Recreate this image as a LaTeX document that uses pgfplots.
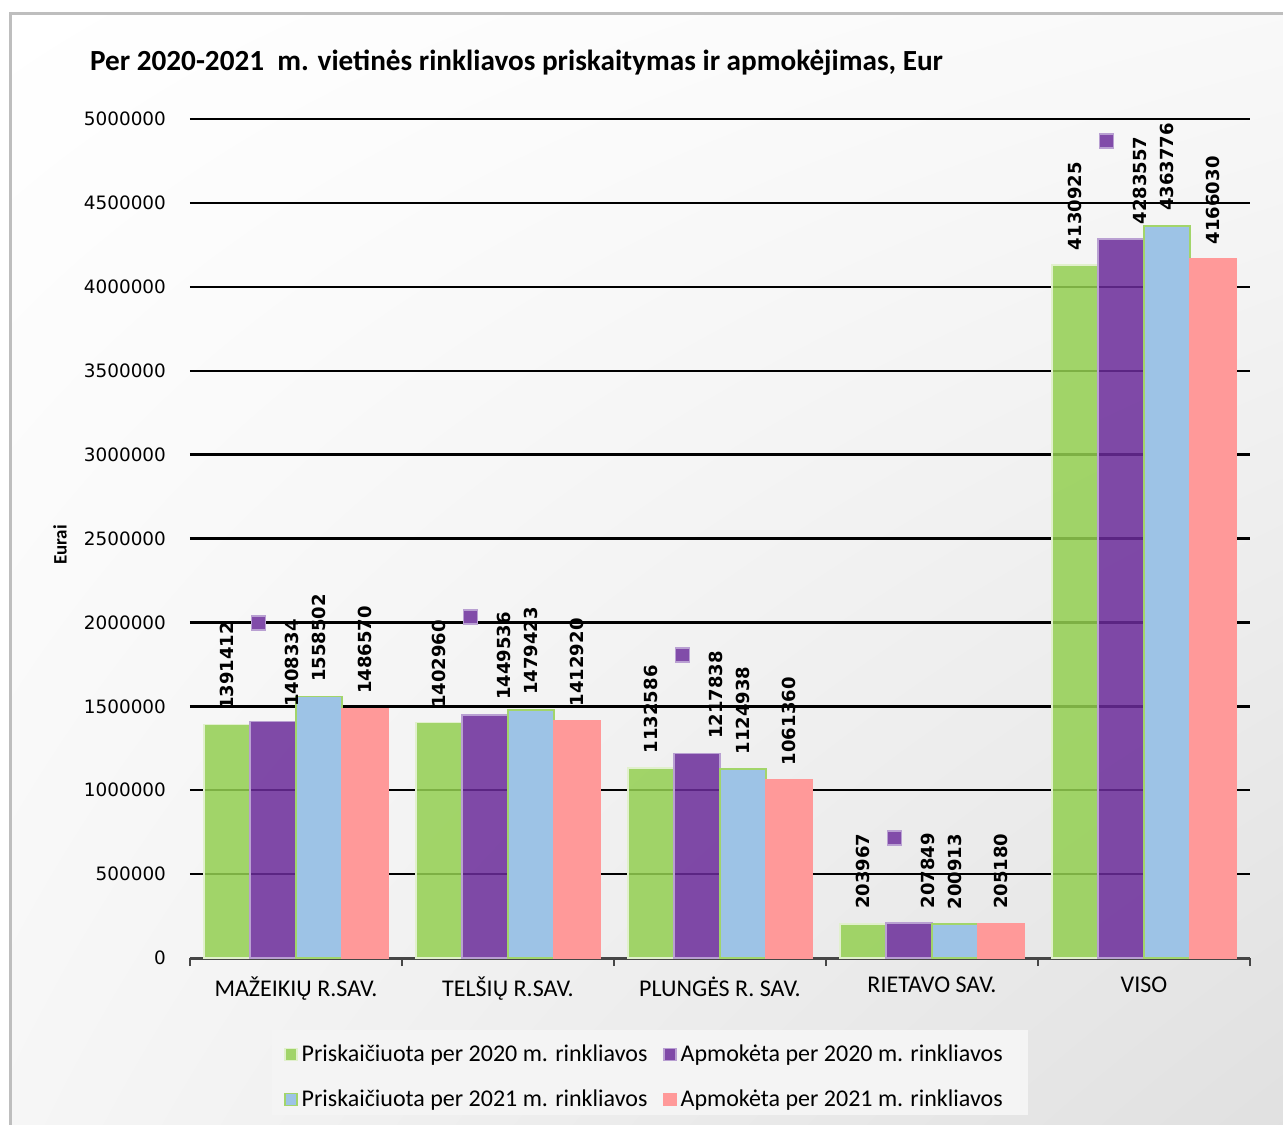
\documentclass[border=0pt]{standalone}
\usepackage{pgfplots}
\pgfplotsset{compat=1.18}
\usepackage{pgfplotstable}
\usetikzlibrary{shadings}
\usepackage{fontspec}
\setmainfont{Carlito}
\newfontfamily\dejavu{DejaVu Sans}
\definecolor{cgreen}{RGB}{147,207,81}
\definecolor{cgreenedge}{RGB}{225,240,205}
\definecolor{cpurple}{RGB}{107,44,154}
\definecolor{cpurpleedge}{RGB}{185,160,210}
\definecolor{cgreenline}{RGB}{162,213,106}
\definecolor{cblue}{RGB}{157,195,230}
\definecolor{cpink}{RGB}{255,153,153}
\definecolor{cborder}{RGB}{190,190,190}
\definecolor{caxis}{RGB}{70,70,70}

\pgfplotstableread{
x y
0 1391412
1 1402960
2 1132586
3 203967
4 4130925
}\tPA
\pgfplotstableread{
x y
0 1408334
1 1449536
2 1217838
3 207849
4 4283557
}\tAA
\pgfplotstableread{
x y
0 1558502
1 1479423
2 1124938
3 200913
4 4363776
}\tPB
\pgfplotstableread{
x y
0 1486570
1 1412920
2 1061360
3 205180
4 4166030
}\tAB
\pgfplotstableread{
x y
-0.177 1996000
0.823 2032000
1.823 1806000
2.823 715000
3.823 4869000
}\tMarks

\begin{document}
\begin{tikzpicture}
\useasboundingbox (-95pt,-83pt) rectangle (546.5pt,479pt);
\fill[white] (-95pt,-83pt) rectangle (546.5pt,479pt);
\shade[upper left=white, upper right=gray!5, lower left=gray!7, lower right=gray!24] (-89.75pt,-83pt) rectangle (546.5pt,472.25pt);
\draw[cborder, line width=1.5pt] (-89.75pt,-90pt) -- (-89.75pt,472.25pt) -- (560pt,472.25pt);
\fill[gray!9] (41pt,-36pt) rectangle (419pt,-78.5pt);
\begin{axis}[
  at={(0,0)}, anchor=south west,
  scale only axis, width=530pt, height=419.5pt,
  xmin=-0.5, xmax=4.5, ymin=0, ymax=5000000,
  axis lines*=left,
  y axis line style={draw=none},
  x axis line style={draw=caxis, line width=1.5pt},
  ytick={0,500000,1000000,1500000,2000000,2500000,3000000,3500000,4000000,4500000,5000000},
  ymajorgrids,
  major grid style={black, line width=1.2pt},
  major tick length=0pt,
  tick align=outside,
  minor tick length=4pt,
  minor x tick style={draw=caxis, line width=1.2pt},
  scaled y ticks=false,
  yticklabel={\dejavu\fontsize{9.2}{10}\selectfont\pgfmathprintnumber[fixed,precision=0,1000 sep={},assume math mode=true]{\tick}},
  yticklabel style={anchor=east, xshift=-8.5pt},
  xtick={0,1,2,3,4},
  minor xtick={-0.5,0.5,1.5,2.5,3.5,4.5},
  xticklabels={MAŽEIKIŲ R.SAV., TELŠIŲ R.SAV., PLUNGĖS R. SAV., RIETAVO SAV., VISO},
  xticklabel style={font=\fontsize{12}{14}\selectfont, yshift=-6pt},
  ylabel={\bfseries Eurai},
  ylabel style={at={(axis description cs:-0.1226,0.4923)}, anchor=center, rotate=0, font=\fontsize{9.5}{11}\selectfont},
  title={Per 2020-2021 \ m. vietinės rinkliavos priskaitymas ir apmokėjimas, Eur},
  title style={at={(axis description cs:-0.1009,1.0524)}, anchor=west, font=\bfseries\fontsize{14.6}{17}\selectfont},
  legend columns=2,
  legend cell align=left,
  legend style={at={(axis description cs:0.0887,-0.0977)}, anchor=north west, fill=none, draw=none,
    font=\fontsize{12}{14}\selectfont, inner xsep=0pt, inner ysep=0pt, row sep=9pt,
    /tikz/every even column/.append style={column sep=6pt}},
  legend image code/.code={\draw[#1, line width=0.6pt] (0pt,-3pt) rectangle (6pt,3pt);},
  point meta=explicit symbolic,
  nodes near coords,
  every node near coord/.append style={font=\dejavu\bfseries\fontsize{9}{10}\selectfont, rotate=90, anchor=west, inner sep=0pt, xshift=7pt},
  clip=false,
]
\addplot[ybar, bar width=23pt, bar shift=-34.5pt, fill=cgreen, fill opacity=0.85, draw=cgreenedge, line width=0.8pt, text opacity=1,
  every node near coord/.append style={yshift=34.5pt}] table[x=x,y=y,meta=y] {\tPA};
\addlegendentry{Priskaičiuota per 2020 m. rinkliavos}
\addplot[ybar, bar width=23pt, bar shift=-11.5pt, fill=cpurple, fill opacity=0.85, draw=cpurpleedge, line width=0.8pt, text opacity=1,
  every node near coord/.append style={yshift=2pt}] table[x=x,y=y,meta=y] {\tAA};
\addlegendentry{Apmokėta per 2020 m. rinkliavos}
\addplot[ybar, bar width=23pt, bar shift=11.5pt, fill=cblue, draw=cgreenline, line width=0.8pt,
  every node near coord/.append style={yshift=-11.5pt}] table[x=x,y=y,meta=y] {\tPB};
\addlegendentry{Priskaičiuota per 2021 m. rinkliavos}
\addplot[ybar, bar width=23pt, bar shift=34.5pt, fill=cpink, draw=cpink, line width=0.8pt,
  every node near coord/.append style={yshift=-34.5pt}] table[x=x,y=y,meta=y] {\tAB};
\addlegendentry{Apmokėta per 2021 m. rinkliavos}
\addplot[only marks, mark=square*, mark size=3.5pt, mark options={fill=cpurple!85!white, draw=cpurpleedge, line width=0.8pt}, nodes near coords={}, forget plot] table[x=x,y=y] {\tMarks};
\end{axis}
\end{tikzpicture}
\end{document}
